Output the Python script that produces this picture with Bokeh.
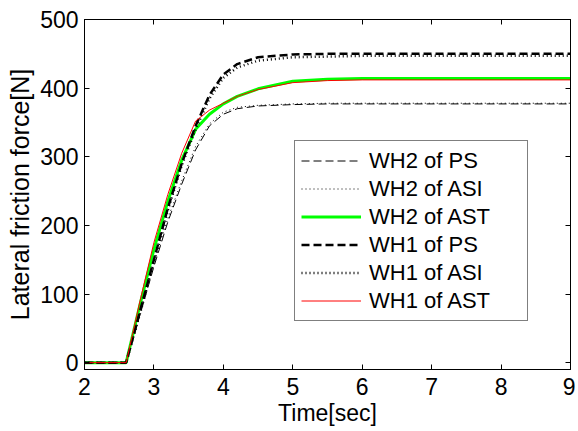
from bokeh.plotting import figure
from bokeh.models import LinearAxis, Range1d, Legend, LegendItem, FixedTicker, CustomLabelingPolicy
from bokeh.embed import file_html
from bokeh.resources import INLINE

t = [2.0, 2.6, 2.8, 3.0, 3.2, 3.4, 3.6, 3.8, 4.0, 4.2, 4.5, 5.0, 5.5, 6.0, 9.0]
wh2_ps  = [0, 0, 70, 140, 205, 260, 310, 345, 362, 370, 374, 376, 377, 377, 377]
wh2_asi = [0, 0, 72, 145, 210, 265, 315, 348, 365, 372, 375, 377, 378, 378, 378]
wh2_ast = [0, 0, 85, 165, 235, 295, 340, 362, 377, 388, 399, 410, 413, 414, 414]
wh1_ps  = [0, 0, 75, 150, 225, 290, 345, 390, 420, 435, 445, 449, 450, 450, 450]
wh1_asi = [0, 0, 72, 148, 222, 287, 340, 385, 415, 430, 440, 445, 446, 447, 447]
wh1_ast = [0, 0, 90, 175, 245, 305, 352, 368, 378, 388, 398, 408, 411, 412, 412]

x_ticks = [2, 3, 4, 5, 6, 7, 8, 9]
y_ticks = [0, 100, 200, 300, 400, 500]

FONT = "Liberation Sans"

p = figure(width=575, height=431, output_backend="svg", toolbar_location=None,
           x_range=Range1d(2, 9), y_range=Range1d(-10, 500),
           min_border_left=84, min_border_right=0, min_border_top=19, min_border_bottom=62)
p.background_fill_color = "white"
p.border_fill_color = "white"
p.outline_line_color = "black"
p.outline_line_width = 1
p.grid.visible = False

r1 = p.line(t, wh2_ps, line_color="black", line_width=1, line_dash="8 4")
r2 = p.line(t, wh2_asi, line_color="black", line_width=1, line_dash="1 3")
r3 = p.line(t, wh2_ast, line_color="#00ff00", line_width=3)
r4 = p.line(t, wh1_ps, line_color="black", line_width=2.5, line_dash="8 4")
r5 = p.line(t, wh1_asi, line_color="black", line_width=2.5, line_dash="1 3")
r6 = p.line(t, wh1_ast, line_color="#ff0000", line_width=1)

for ax in [p.xaxis[0], p.yaxis[0]]:
    ax.major_tick_in = 5
    ax.major_tick_out = 0
    ax.minor_tick_in = 0
    ax.minor_tick_out = 0
    ax.axis_line_color = "black"
    ax.major_label_text_font = FONT
    ax.major_label_text_font_size = "23px"
    ax.major_label_text_color = "black"
    ax.major_label_text_line_height = 1.0
    ax.axis_label_text_font = FONT
    ax.axis_label_text_font_size = "23px"
    ax.axis_label_text_font_style = "normal"
    ax.axis_label_text_color = "black"
    ax.axis_label_text_line_height = 1.0

p.yaxis[0].axis_label_text_font_size = "25px"
p.xaxis[0].ticker = FixedTicker(ticks=x_ticks)
p.yaxis[0].ticker = FixedTicker(ticks=y_ticks)
p.xaxis[0].axis_label = "Time[sec]"
p.yaxis[0].axis_label = "Lateral friction force[N]"
p.xaxis[0].major_label_standoff = 8
p.yaxis[0].major_label_standoff = 6
p.xaxis[0].axis_label_standoff = 2
p.yaxis[0].axis_label_standoff = 3

no_labels = CustomLabelingPolicy(code="""
for (const i of Array.from(indices)) { indices.unset(i) }
return indices
""")
top = LinearAxis(ticker=FixedTicker(ticks=x_ticks), major_label_policy=no_labels,
                 major_label_standoff=0, major_label_text_font_size="1px",
                 axis_line_color="black",
                 major_tick_in=5, major_tick_out=0, minor_tick_in=0, minor_tick_out=0)
right = LinearAxis(ticker=FixedTicker(ticks=y_ticks), major_label_policy=no_labels,
                   major_label_standoff=0, major_label_text_font_size="1px",
                   axis_line_color="black",
                   major_tick_in=5, major_tick_out=0, minor_tick_in=0, minor_tick_out=0)
p.add_layout(top, "above")
p.add_layout(right, "right")

legend = Legend(items=[
    LegendItem(label="WH2 of PS", renderers=[r1]),
    LegendItem(label="WH2 of ASI", renderers=[r2]),
    LegendItem(label="WH2 of AST", renderers=[r3]),
    LegendItem(label="WH1 of PS", renderers=[r4]),
    LegendItem(label="WH1 of ASI", renderers=[r5]),
    LegendItem(label="WH1 of AST", renderers=[r6]),
], location=(210, 48))
legend.label_text_font = FONT
legend.label_text_font_size = "22px"
legend.label_text_color = "black"
legend.glyph_width = 60
legend.glyph_height = 27
legend.label_height = 27
legend.label_width = 152
legend.spacing = 1
legend.padding = 6
legend.margin = 0
legend.label_standoff = 8
legend.border_line_color = "black"
legend.border_line_width = 1
legend.background_fill_color = "white"
legend.background_fill_alpha = 1
p.add_layout(legend, "center")

open("out.html", "w").write(file_html(p, INLINE))
